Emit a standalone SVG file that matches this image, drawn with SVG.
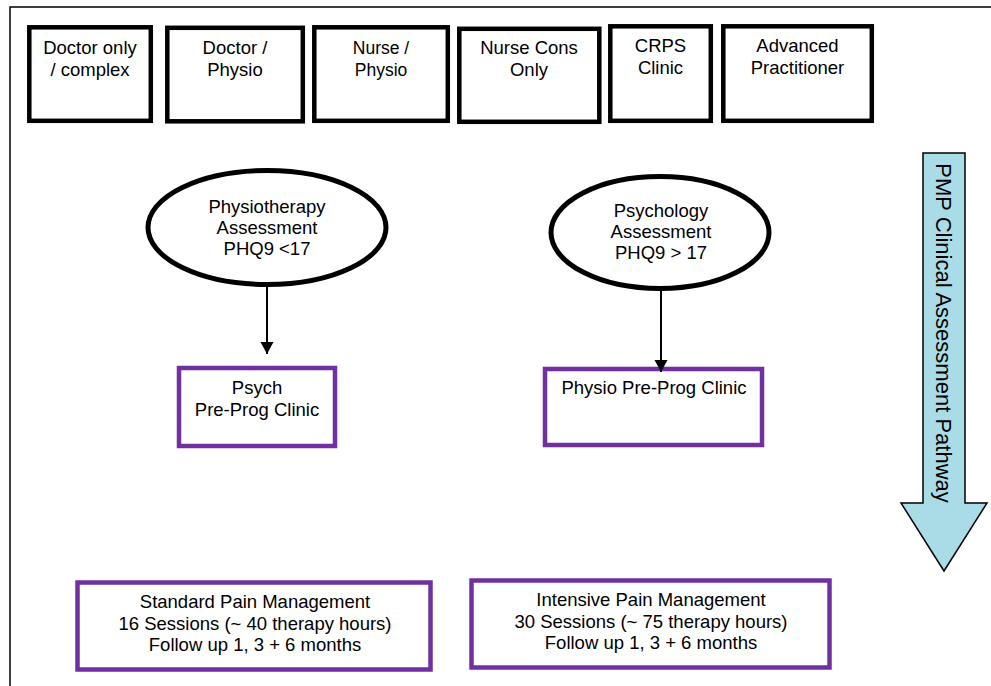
<svg xmlns="http://www.w3.org/2000/svg" width="991" height="686" viewBox="0 0 991 686">
  <style>
    text { font-family: "Liberation Sans", Arial, sans-serif; font-size: 18.5px; fill: #000; text-anchor: middle; }
    .top rect { fill: #fff; stroke: #000; stroke-width: 4.5; }
    .oval ellipse { fill: #fff; stroke: #000; stroke-width: 5; }
    .purple rect { fill: #fff; stroke: #7030A0; stroke-width: 4.5; }
    .conn line { stroke: #000; stroke-width: 2; }
  </style>
  <defs>
    <marker id="ah" markerUnits="userSpaceOnUse" markerWidth="14" markerHeight="14" refX="12" refY="6.5" orient="auto">
      <path d="M0,0 L12,6.5 L0,13 z" fill="#000"/>
    </marker>
  </defs>
  <rect width="991" height="686" fill="#fff"/>
  <rect x="10" y="7" width="1000" height="700" fill="none" stroke="#000" stroke-width="1.5"/>

  <g id="n-doctor-only" class="top">
    <rect x="29.3" y="27.3" width="121.5" height="93.5"/>
    <text x="90" y="54">Doctor only</text>
    <text x="90" y="76">/ complex</text>
  </g>
  <g id="n-doctor-physio" class="top">
    <rect x="167.3" y="27.8" width="135.5" height="93.5"/>
    <text x="235" y="54">Doctor /</text>
    <text x="235" y="76">Physio</text>
  </g>
  <g id="n-nurse-physio" class="top">
    <rect x="314.3" y="27.3" width="133.5" height="93.5"/>
    <text x="381" y="54" style="font-size:17.5px">Nurse /</text>
    <text x="381" y="76" style="font-size:17.5px">Physio</text>
  </g>
  <g id="n-nurse-cons" class="top">
    <rect x="459.3" y="28.8" width="140" height="93"/>
    <text x="529" y="54">Nurse Cons</text>
    <text x="529" y="76">Only</text>
  </g>
  <g id="n-crps" class="top">
    <rect x="610.3" y="26.3" width="100.5" height="94.5"/>
    <text x="660.5" y="52">CRPS</text>
    <text x="660.5" y="74">Clinic</text>
  </g>
  <g id="n-advanced" class="top">
    <rect x="723.3" y="26.3" width="148.5" height="94.5"/>
    <text x="797.5" y="52">Advanced</text>
    <text x="797.5" y="74">Practitioner</text>
  </g>

  <g id="n-physio-assess" class="oval">
    <ellipse cx="267" cy="227.5" rx="119" ry="57"/>
    <text x="267" y="213">Physiotherapy</text>
    <text x="267" y="234">Assessment</text>
    <text x="267" y="255">PHQ9 &lt;17</text>
  </g>
  <g id="n-psych-assess" class="oval">
    <ellipse cx="660" cy="232.5" rx="109" ry="56"/>
    <text x="661" y="217">Psychology</text>
    <text x="661" y="238">Assessment</text>
    <text x="661" y="259">PHQ9 &gt; 17</text>
  </g>

  <g id="n-psych-preprog" class="purple">
    <rect x="179" y="368" width="156" height="78"/>
    <text x="257" y="394">Psych</text>
    <text x="257" y="416">Pre-Prog Clinic</text>
  </g>
  <g id="n-physio-preprog" class="purple">
    <rect x="545" y="369" width="217" height="76"/>
    <text x="654" y="394">Physio Pre-Prog Clinic</text>
  </g>

  <g id="n-standard" class="purple">
    <rect x="77.5" y="582.5" width="353" height="87"/>
    <text x="255" y="608">Standard Pain Management</text>
    <text x="255" y="630">16 Sessions (~ 40 therapy hours)</text>
    <text x="255" y="651">Follow up 1, 3 + 6 months</text>
  </g>
  <g id="n-intensive" class="purple">
    <rect x="471.5" y="580.5" width="358" height="87"/>
    <text x="651" y="606">Intensive Pain Management</text>
    <text x="651" y="628">30 Sessions (~ 75 therapy hours)</text>
    <text x="651" y="649">Follow up 1, 3 + 6 months</text>
  </g>

  <g id="n-pathway">
    <polygon points="923,153 965,153 965,503 987,503 944,571 901,503 923,503" fill="#A9DCE7" stroke="#000" stroke-width="1.5"/>
    <text transform="translate(936,333) rotate(90)" style="font-size:22px">PMP Clinical Assessment Pathway</text>
  </g>

  <g id="connectors" class="conn">
    <line x1="267" y1="287" x2="267" y2="354" marker-end="url(#ah)"/>
    <line x1="661" y1="291" x2="661" y2="372" marker-end="url(#ah)"/>
  </g>
</svg>
